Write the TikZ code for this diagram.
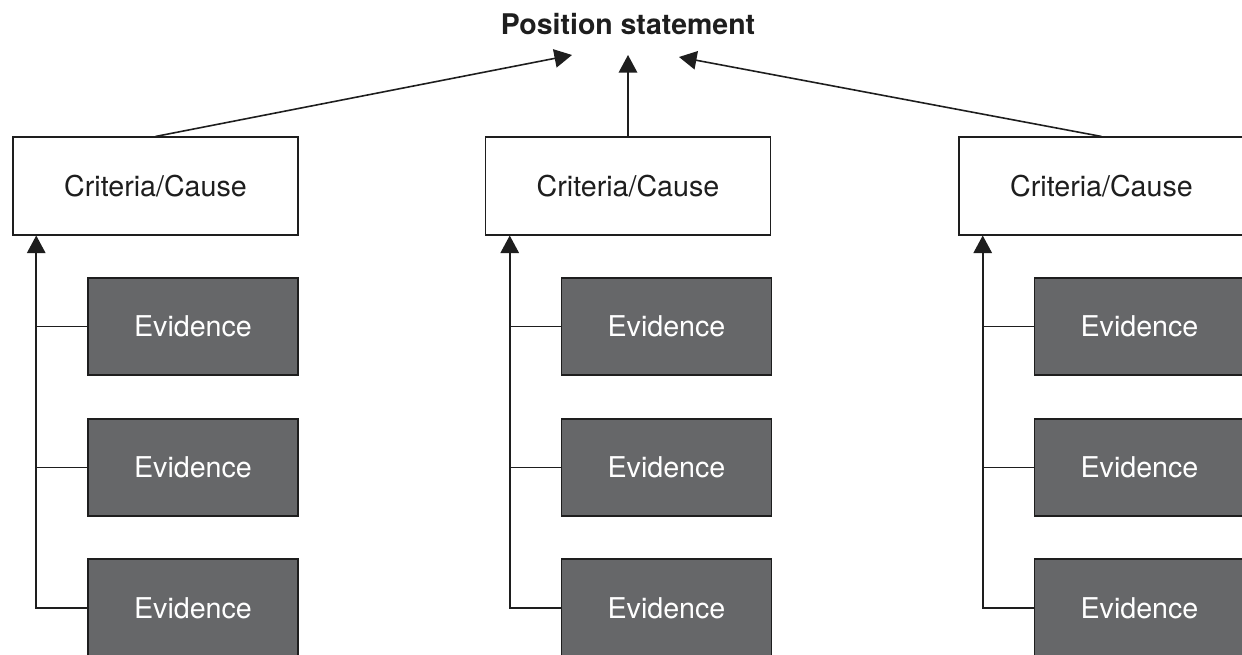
\documentclass[tikz,border=0pt]{standalone}
\usepackage{fontspec}
\setmainfont{TeX Gyre Heros}
\usetikzlibrary{arrows.meta}
\definecolor{evgrey}{RGB}{102,103,105}
\definecolor{inkc}{RGB}{30,30,30}
\begin{document}
\begin{tikzpicture}[x=0.02cm,y=-0.02cm,
  lbl/.style={font=\fontsize{16.3}{19}\selectfont},
  crit/.style={lbl,draw=inkc,line width=0.9pt,fill=white,minimum width=5.7cm,minimum height=1.95cm,inner sep=0pt,text=inkc},
  evid/.style={lbl,draw=inkc,line width=0.9pt,fill=evgrey,minimum width=4.2cm,minimum height=1.95cm,inner sep=0pt,text=white},
  link/.style={line width=0.9pt,draw=inkc},
  arr/.style={link,-{Triangle[width=10.5pt,length=10pt]}},
]
\useasboundingbox (0,0) rectangle (1242,655);
\fill[white] (0,0) rectangle (1242,655);
\clip (0,0) rectangle (1242,655);

\node[font=\bfseries\fontsize{16.2}{19}\selectfont,text=inkc] (title) at (628,24) {Position statement};
\coordinate (tL) at (572,55);
\coordinate (tM) at (628,55);
\coordinate (tR) at (679,57);

\foreach \cx/\ex/\n in {155.5/193/L, 628/666.5/M, 1101.5/1139.5/R}{
  \node[crit] (c\n) at (\cx,186) {Criteria/Cause};
  \node[evid] (e\n1) at (\ex,326.5) {Evidence};
  \node[evid] (e\n2) at (\ex,467.5) {Evidence};
  \node[evid] (e\n3) at (\ex,608) {Evidence};
  \draw[arr] (e\n3.west) -- ++(-51,0) coordinate (b\n) -- (b\n |- c\n.south);
  \draw[link] (e\n1.west) -- (e\n1.west -| b\n);
  \draw[link] (e\n2.west) -- (e\n2.west -| b\n);
}
\draw[arr] (cL.north) -- (tL);
\draw[arr] (cM.north) -- (tM);
\draw[arr] (cR.north) -- (tR);
\end{tikzpicture}
\end{document}
